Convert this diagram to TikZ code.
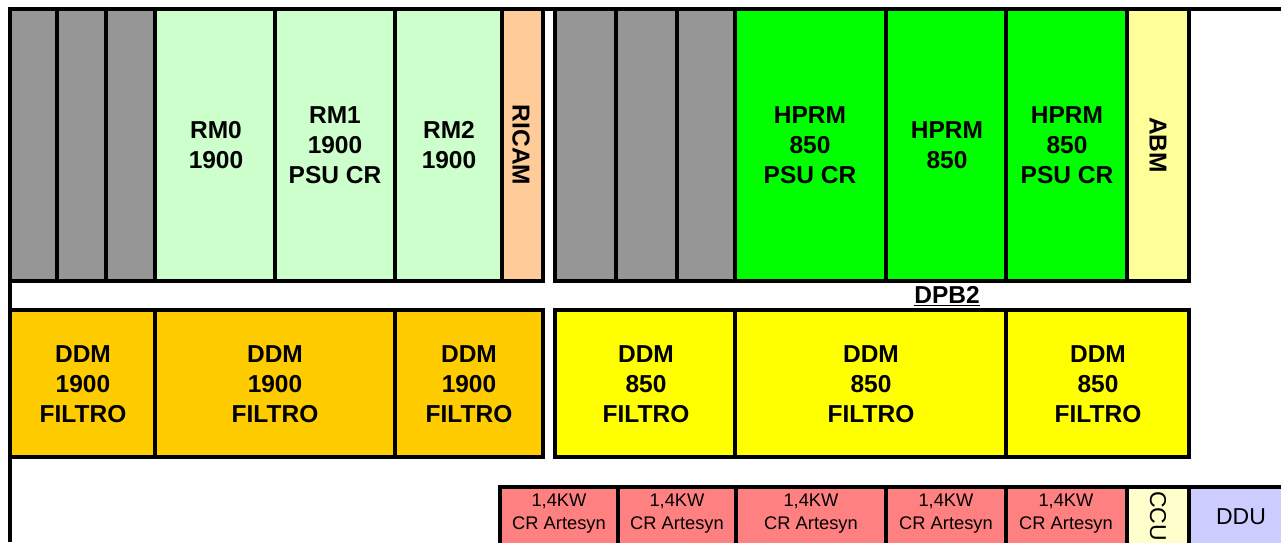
\documentclass[tikz,border=0pt]{standalone}
\usepackage{fontspec}
\setmainfont{Liberation Sans}

\definecolor{slotgray}{HTML}{969696}
\definecolor{rmgreen}{HTML}{CCFFCC}
\definecolor{icpeach}{HTML}{FFCC99}
\definecolor{hpgreen}{HTML}{00FF00}
\definecolor{abmyellow}{HTML}{FFFF99}
\definecolor{ddmorange}{HTML}{FFCC00}
\definecolor{ddmyellow}{HTML}{FFFF00}
\definecolor{psured}{HTML}{FF8080}
\definecolor{ccucream}{HTML}{FFFFCC}
\definecolor{ddublue}{HTML}{CCCCFF}

\tikzset{
  rack/.style={line width=3.5pt},
  boldtxt/.style={font=\fontsize{24.5}{30}\selectfont\bfseries, align=center},
  thintxt/.style={font=\fontsize{18.3}{23}\selectfont, align=center},
  bigthin/.style={font=\fontsize{23}{26}\selectfont, align=center},
}

\begin{document}
\begin{tikzpicture}[x=1pt, y=-1pt]
    \useasboundingbox (0,0) rectangle (1281,542);
    \clip (0,0) rectangle (1281,542);

    % left rack, upper shelf
    \foreach \a/\b in {10/57, 57/106, 106/155}
        \draw[rack, fill=slotgray] (\a,9) rectangle (\b,281);
    \draw[rack, fill=rmgreen] (155,9) rectangle (275,281);
    \draw[rack, fill=rmgreen] (275,9) rectangle (395,281);
    \draw[rack, fill=rmgreen] (395,9) rectangle (502,281);
    \draw[rack, fill=icpeach] (502,9) rectangle (543,281);

    % right rack, upper shelf
    \foreach \a/\b in {555/616, 616/677, 677/735}
        \draw[rack, fill=slotgray] (\a,9) rectangle (\b,281);
    \draw[rack, fill=hpgreen] (735,9) rectangle (886,281);
    \draw[rack, fill=hpgreen] (886,9) rectangle (1006,281);
    \draw[rack, fill=hpgreen] (1006,9) rectangle (1127,281);
    \draw[rack, fill=abmyellow] (1127,9) rectangle (1189,281);

    % filter shelf
    \draw[rack, fill=ddmorange] (10,310) rectangle (155,457);
    \draw[rack, fill=ddmorange] (155,310) rectangle (395,457);
    \draw[rack, fill=ddmorange] (395,310) rectangle (543,457);
    \draw[rack, fill=ddmyellow] (555,310) rectangle (735,457);
    \draw[rack, fill=ddmyellow] (735,310) rectangle (1006,457);
    \draw[rack, fill=ddmyellow] (1006,310) rectangle (1189,457);

    % power shelf
    \foreach \a/\b in {500/618, 618/736, 736/886, 886/1006, 1006/1127}
        \draw[rack, fill=psured] (\a,487) rectangle (\b,560);
    \draw[rack, fill=ccucream] (1127,487) rectangle (1189,560);
    \draw[rack, fill=ddublue] (1189,487) rectangle (1290,560);

    % frame
    \draw[rack] (10,9) -- (1281,9);
    \draw[rack] (10,9) -- (10,542);
    \draw[rack] (10,281) -- (543,281);
    \draw[rack] (555,281) -- (1189,281);

    \node[boldtxt] (rm0) at (216,145) {RM0\\1900};
    \node[boldtxt] (rm1) at (335,145) {RM1\\1900\\PSU CR};
    \node[boldtxt] (rm2) at (449,145) {RM2\\1900};
    \node[boldtxt, rotate=-90] (ricam) at (521,145) {RICAM};
    \node[boldtxt] (hprma) at (810,145) {HPRM\\850\\PSU CR};
    \node[boldtxt] (hprmb) at (947,145) {HPRM\\850};
    \node[boldtxt] (hprmc) at (1067,145) {HPRM\\850\\PSU CR};
    \node[boldtxt, rotate=-90] (abm) at (1158,145) {ABM};

    \node[boldtxt] (dpb) at (947,296) {\underline{DPB2}};

    \node[boldtxt] (ddma) at (83,384) {DDM\\1900\\FILTRO};
    \node[boldtxt] (ddmb) at (275,384) {DDM\\1900\\FILTRO};
    \node[boldtxt] (ddmc) at (469,384) {DDM\\1900\\FILTRO};
    \node[boldtxt] (ddmd) at (646,384) {DDM\\850\\FILTRO};
    \node[boldtxt] (ddme) at (871,384) {DDM\\850\\FILTRO};
    \node[boldtxt] (ddmf) at (1098,384) {DDM\\850\\FILTRO};

    \node[thintxt] (psua) at (559,514) {1,4KW\\CR Artesyn};
    \node[thintxt] (psub) at (677,514) {1,4KW\\CR Artesyn};
    \node[thintxt] (psuc) at (811,514) {1,4KW\\CR Artesyn};
    \node[thintxt] (psud) at (946,514) {1,4KW\\CR Artesyn};
    \node[thintxt] (psue) at (1066,514) {1,4KW\\CR Artesyn};
    \node[bigthin, rotate=-90] (ccu) at (1158,516) {CCU};
    \node[bigthin] (ddu) at (1241,517) {DDU};
\end{tikzpicture}
\end{document}
